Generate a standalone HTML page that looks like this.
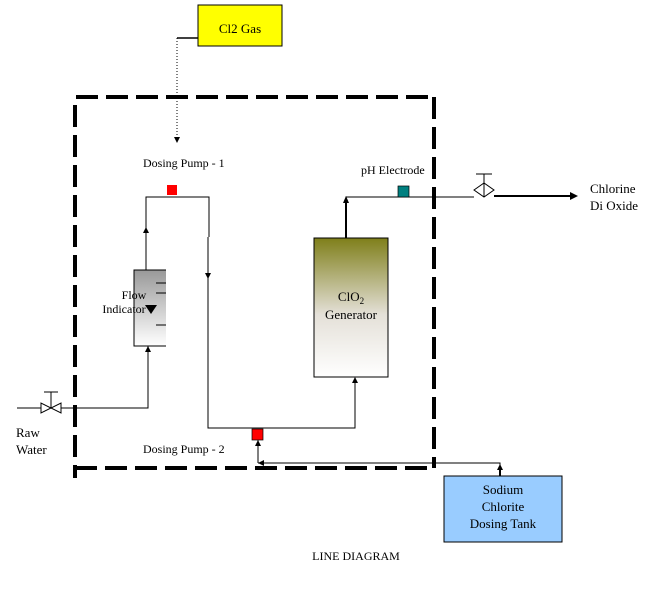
<!DOCTYPE html>
<html><head><meta charset="utf-8"><style>
html,body{margin:0;padding:0;background:#fff;}
svg{display:block;}
text{font-family:"Liberation Serif",serif;fill:#000;}
</style></head><body>
<svg width="653" height="603" viewBox="0 0 653 603" xmlns="http://www.w3.org/2000/svg">
<defs>
<linearGradient id="g" x1="0" y1="0" x2="0" y2="1">
<stop offset="0" stop-color="#7f7f1a"/><stop offset="0.55" stop-color="#e4e0d8"/><stop offset="1" stop-color="#ffffff"/>
</linearGradient>
<linearGradient id="f" x1="0" y1="0" x2="0" y2="1">
<stop offset="0" stop-color="#999"/><stop offset="1" stop-color="#fff"/>
</linearGradient>
</defs>
<!-- dashed boundary -->
<g stroke="#000" stroke-width="4" fill="none" stroke-dasharray="22,8">
<line x1="76" y1="97" x2="434" y2="97"/>
<line x1="434" y1="97" x2="434" y2="468"/>
<line x1="75" y1="468" x2="434" y2="468"/>
<line x1="75" y1="105" x2="75" y2="478"/>
</g>
<!-- Cl2 gas -->
<rect x="198" y="5" width="84" height="41" fill="#ffff00" stroke="#000" stroke-width="1"/>
<text x="240" y="33" font-size="13" text-anchor="middle">Cl2 Gas</text>
<line x1="177" y1="38" x2="198" y2="38" stroke="#000" stroke-width="1.5"/>
<line x1="177" y1="38" x2="177" y2="138" stroke="#000" stroke-width="1" stroke-dasharray="1,2"/>
<polygon points="174,137 180,137 177,143" fill="#000"/>
<!-- pump 1 -->
<text x="143" y="167" font-size="12">Dosing Pump - 1</text>
<rect x="167" y="185" width="10" height="10" fill="#ff0000"/>
<g stroke="#000" stroke-width="1" fill="none">
<polyline points="146,270 146,197 209,197 209,237"/>
<polyline points="208,237 208,428 355,428 355,378"/>
<polyline points="148,346 148,408 17,408"/>
<polyline points="346,238 346,197 474,197"/>
<line x1="258" y1="440" x2="258" y2="463"/>
<polyline points="258,463 500,463 500,476"/>
</g>
<polygon points="143,233 149,233 146,227" fill="#000"/>
<polygon points="205,273 211,273 208,279" fill="#000"/>
<polygon points="352,383 358,383 355,377" fill="#000"/>
<polygon points="145,352 151,352 148,346" fill="#000"/>
<polygon points="255,446 261,446 258,440" fill="#000"/>
<polygon points="264,460 264,466 258,463" fill="#000"/>
<polygon points="497,470 503,470 500,464" fill="#000"/>
<line x1="500" y1="466" x2="500" y2="476" stroke="#000" stroke-width="2"/>
<!-- flow indicator -->
<rect x="134" y="270" width="32" height="76" fill="url(#f)"/>
<polyline points="166,270 134,270 134,346 166,346" fill="none" stroke="#000" stroke-width="1"/>
<g stroke="#000" stroke-width="1"><line x1="156" y1="283" x2="166" y2="283"/><line x1="156" y1="293" x2="166" y2="293"/><line x1="156" y1="325" x2="166" y2="325"/></g>
<polygon points="145,305 157,305 151,314" fill="#000"/>
<text x="134" y="299" font-size="12" text-anchor="middle">Flow</text>
<text x="124" y="313" font-size="12" text-anchor="middle">Indicator</text>
<!-- raw water valve -->
<polygon points="44,404 48,408 44,412" fill="#000"/>
<g stroke="#000" stroke-width="1" fill="#fff">
<polygon points="41,403 41,413 51,408"/>
<polygon points="61,403 61,413 51,408"/>
<line x1="51" y1="408" x2="51" y2="392"/>
<line x1="44" y1="392" x2="58" y2="392"/>
</g>
<text x="16" y="437" font-size="13">Raw</text>
<text x="16" y="454" font-size="13">Water</text>
<!-- pump 2 -->
<rect x="252" y="429" width="11" height="11" fill="#ff0000" stroke="#000" stroke-width="0.7"/>
<text x="143" y="453" font-size="12">Dosing Pump - 2</text>
<!-- generator -->
<line x1="346" y1="238" x2="346" y2="200" stroke="#000" stroke-width="2"/>
<polygon points="343,203 349,203 346,196" fill="#000"/>
<rect x="314" y="238" width="74" height="139" fill="url(#g)" stroke="#000" stroke-width="1"/>
<text x="351" y="301" font-size="13" text-anchor="middle">ClO<tspan font-size="9" dy="3">2</tspan></text>
<text x="351" y="319" font-size="13" text-anchor="middle">Generator</text>
<!-- pH electrode -->
<text x="361" y="174" font-size="12">pH Electrode</text>
<rect x="398" y="186" width="11" height="11" fill="#008080" stroke="#000" stroke-width="0.7"/>
<!-- outlet valve -->
<g stroke="#000" stroke-width="1" fill="#fff">
<polygon points="474,190 484,183 494,190 484,197"/>
<line x1="484" y1="174" x2="484" y2="197"/>
<line x1="476" y1="174" x2="492" y2="174"/>
</g>
<line x1="494" y1="196" x2="572" y2="196" stroke="#000" stroke-width="2"/>
<polygon points="570,192 578,196 570,200" fill="#000"/>
<text x="590" y="193" font-size="13">Chlorine</text>
<text x="590" y="210" font-size="13">Di Oxide</text>
<!-- tank -->
<rect x="444" y="476" width="118" height="66" fill="#99ccff" stroke="#000" stroke-width="1"/>
<text x="503" y="494" font-size="13" text-anchor="middle">Sodium</text>
<text x="503" y="511" font-size="13" text-anchor="middle">Chlorite</text>
<text x="503" y="528" font-size="13" text-anchor="middle">Dosing Tank</text>
<text x="356" y="560" font-size="12" text-anchor="middle">LINE  DIAGRAM</text>
</svg>
</body></html>
